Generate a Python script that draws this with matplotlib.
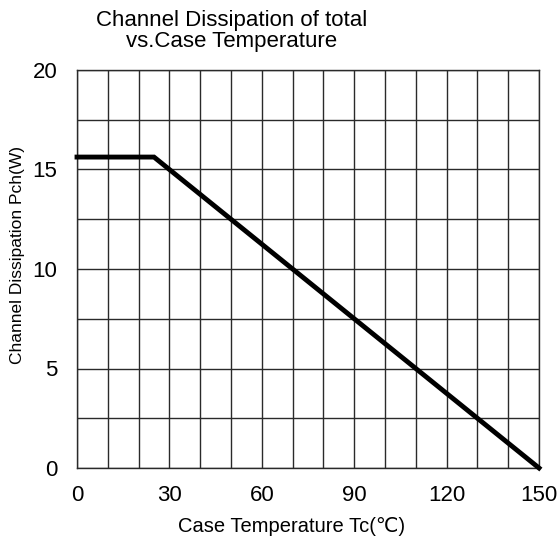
import matplotlib
matplotlib.use("Agg")
import matplotlib.pyplot as plt
from matplotlib.ticker import MultipleLocator

plt.rcParams['font.family'] = ['Liberation Sans', 'DejaVu Sans']

# data
temp = [0, 25, 150]
pch = [15.625, 15.625, 0]
xticks = [0, 30, 60, 90, 120, 150]
yticks = [0, 5, 10, 15, 20]

W, H = 559, 539
fig = plt.figure(figsize=(W/100, H/100), dpi=100)
ax = fig.add_axes([77/W, 1-468/H, (539-77)/W, (468-70)/H])
ax.set_xlim(0, 150)
ax.set_ylim(0, 20)
ax.xaxis.set_minor_locator(MultipleLocator(10))
ax.yaxis.set_minor_locator(MultipleLocator(2.5))
ax.set_xticks(xticks)
ax.set_yticks(yticks)
ax.grid(True, which='both', color='#2a2a2a', linewidth=1.0)
ax.tick_params(which='both', length=0, labelsize=16)
ax.tick_params(axis='x', pad=12)
ax.tick_params(axis='y', pad=14)
for s in ax.spines.values():
    s.set_color('#2a2a2a')
    s.set_linewidth(1.0)
ax.plot(temp, pch, color='black', linewidth=3.5, solid_joinstyle='miter', clip_on=False, zorder=5)

fig.text(232/W, 1-31/H, "Channel Dissipation of total\nvs.Case Temperature",
         ha='center', va='center', fontsize=16, linespacing=1.0)
fig.text(292/W, 1-526/H, "Case Temperature Tc(\u2103)", ha='center', va='center', fontsize=14.5)
fig.text(18/W, 1-255/H, "Channel Dissipation Pch(W)", ha='center', va='center',
         rotation=90, fontsize=12.5)

fig.savefig("out.png", dpi=100)
